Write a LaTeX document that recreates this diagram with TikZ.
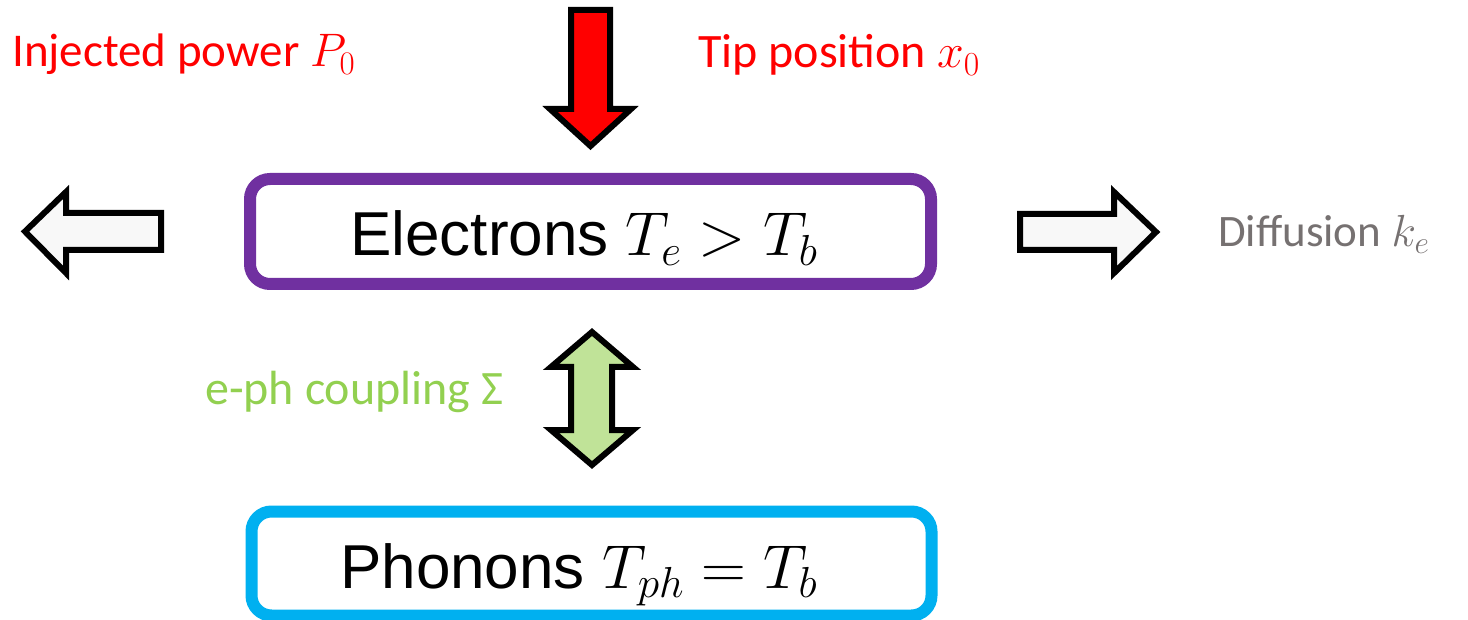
\RequirePackage{fix-cm}
\documentclass[tikz,border=0pt]{standalone}
\usepackage{fontspec}
\setmainfont{Liberation Sans}
\newfontfamily\calfont{Carlito}
\definecolor{myred}{HTML}{FF0000}
\definecolor{mypurple}{HTML}{7030A0}
\definecolor{myblue}{HTML}{00B0F0}
\definecolor{mygreen}{HTML}{92D050}
\definecolor{mygreenfill}{RGB}{192,227,152}
\definecolor{mygray}{HTML}{767171}
\definecolor{arrowfill}{HTML}{F8F8F8}
\tikzset{
  bigbox/.style={draw=#1, line width=12pt, rounded corners=20pt, inner sep=0pt},
  bigtext/.style={inner sep=0pt, anchor=base west, font=\fontsize{62}{74}\selectfont},
  labeltext/.style={inner sep=0pt, anchor=base west, text=#1},
  lsize/.style={font=\calfont\fontsize{#1}{#1}\selectfont},
  blockarrow/.style={draw=black, line width=6pt, miter limit=10, fill=#1},
}
\begin{document}
\begin{tikzpicture}[x=1pt,y=-1pt]
\useasboundingbox (0,0) rectangle (1468,620);
% boxes
\node[bigbox=mypurple, minimum width=681pt, minimum height=105pt] (el) at (590.5,231.5) {};
\node[bigbox=myblue, minimum width=680pt, minimum height=104pt] (ph) at (591.5,563.5) {};
\node[bigtext] (eltext) at (350,256) {Electrons $T_e > T_b$};
\node[bigtext] (phtext) at (340,588) {Phonons $T_{ph} = T_b$};
% labels
\node[labeltext=myred, lsize=47] (inj) at (12,67) {Injected power $P_0$};
\node[labeltext=myred, lsize=48] (tip) at (698,68) {Tip position $x_0$};
\node[labeltext=mygray, lsize=45] (diff) at (1218,247) {Diffusion $k_e$};
\node[labeltext=mygreen, lsize=48] (eph) at (205,404) {e-ph coupling Σ};
% red arrow (tip injection)
\draw[blockarrow=myred] (571,10) -- (610,10) -- (610,109) -- (631,109) -- (590.5,146) -- (550,109) -- (571,109) -- cycle;
% left diffusion arrow
\draw[blockarrow=arrowfill] (161,213) -- (66,213) -- (66,192) -- (25,231.5) -- (66,273) -- (66,250) -- (161,250) -- cycle;
% right diffusion arrow
\draw[blockarrow=arrowfill] (1020,214) -- (1114,214) -- (1114,192) -- (1156,232) -- (1114,273) -- (1114,250) -- (1020,250) -- cycle;
% green double arrow (coupling)
\draw[blockarrow=mygreenfill] (592,332) -- (633,367) -- (612,367) -- (612,430) -- (633,430) -- (592,465) -- (551,430) -- (571,430) -- (571,367) -- (551,367) -- cycle;
\end{tikzpicture}
\end{document}
